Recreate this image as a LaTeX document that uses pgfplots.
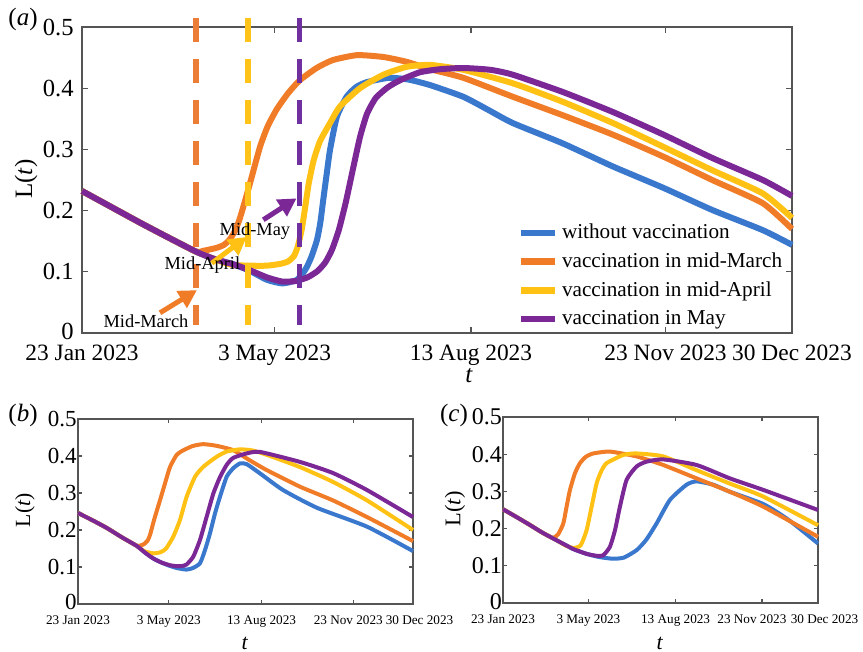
\documentclass[border=0pt]{standalone}
\usepackage{pgfplots}
\pgfplotsset{compat=1.18}
\usepackage{fontspec}
\setmainfont{Liberation Serif}
\usetikzlibrary{arrows.meta}
\definecolor{cblue}{RGB}{58,120,206}
\definecolor{corange}{RGB}{240,124,40}
\definecolor{cyellow}{RGB}{255,193,20}
\definecolor{cpurple}{RGB}{123,40,150}
\definecolor{dorange}{RGB}{235,125,55}
\definecolor{dyellow}{RGB}{255,195,25}
\definecolor{dpurple}{RGB}{112,48,160}
\definecolor{axgray}{RGB}{85,85,85}
\pgfplotsset{
  common/.style={
    scale only axis, xmin=0, xmax=365, ymin=0, ymax=0.5,
    xtick={0,99,200,300,365},
    xticklabels={23 Jan 2023,3 May 2023,13 Aug 2023,23 Nov 2023,30 Dec 2023},
    ytick={0,0.1,0.2,0.3,0.4,0.5},
    yticklabels={\raisebox{1.8pt}{0},0.1,0.2,0.3,0.4,0.5},
    axis line style={axgray, line width=0.7pt},
    tick style={axgray, line width=0.6pt},
    tick align=inside,
    /pgf/number format/assume math mode=true,
    clip=false,
  },
}
\begin{document}
\begin{tikzpicture}
\path[use as bounding box] (0,0) rectangle (431.5pt,-326pt);
% ---------------- (a)
\begin{axis}[common, at={(41pt,-166.5pt)}, anchor=south west, width=355pt, height=153pt,
  major tick length=2.8pt,
  xticklabel style={font=\fontsize{11.7}{13}\selectfont, inner sep=0.8pt, yshift=-5pt},
  yticklabel style={font=\fontsize{12.3}{13}\selectfont, inner sep=1pt, xshift=-3pt},
  legend style={at={(0.613,0.371)}, anchor=north west, draw=none, fill=none,
    font=\fontsize{10.6}{12.7}\selectfont, row sep=1.6pt, inner sep=0pt},
  legend cell align=left,
  legend image code/.code={\draw[#1, line width=3.2pt] (0pt,0pt) -- (17pt,0pt);},
  every axis plot/.append style={line width=3pt, smooth, tension=0.35},
]
\addplot[cblue] coordinates {(0,0.232) (15,0.206) (30,0.180) (45,0.155) (58.6,0.133) (68,0.121) (78,0.112) (86,0.102) (95,0.087) (103,0.081) (110,0.086) (113,0.095) (115.6,0.108) (118,0.125) (120.8,0.152) (122.5,0.18) (124,0.217) (125.8,0.26) (127.5,0.299) (131,0.353) (136,0.386) (141,0.402) (146.5,0.410) (158,0.417) (168,0.414) (179,0.405) (196,0.386) (208,0.366) (221.5,0.343) (247,0.31) (273,0.272) (299,0.237) (324,0.201) (350,0.168) (365,0.144)};
\addlegendentry{without vaccination}
\addplot[corange] coordinates {(0,0.232) (15,0.206) (30,0.180) (45,0.155) (58.6,0.133) (62,0.134) (69,0.139) (73,0.144) (76,0.153) (78.5,0.166) (80.8,0.184) (83,0.207) (86.4,0.245) (91.5,0.304) (95.5,0.338) (100.2,0.366) (106,0.392) (112,0.413) (120.6,0.433) (129,0.446) (141.4,0.454) (154.9,0.451) (167,0.443) (179,0.431) (196,0.417) (221.5,0.386) (247,0.356) (273,0.324) (299,0.288) (324,0.25) (350,0.212) (365,0.17)};
\addlegendentry{vaccination in mid-March}
\addplot[cyellow] coordinates {(0,0.232) (15,0.206) (30,0.180) (45,0.155) (58.6,0.133) (68,0.121) (74,0.114) (78,0.111) (86,0.110) (95,0.110) (102,0.113) (106,0.117) (109,0.126) (111,0.142) (113,0.17) (114.8,0.207) (116.6,0.245) (119,0.281) (122.3,0.313) (127.5,0.343) (132.6,0.37) (142.9,0.40) (154.9,0.422) (167,0.435) (179,0.438) (196,0.43) (221.5,0.408) (247,0.378) (273,0.343) (299,0.304) (324,0.266) (350,0.228) (365,0.188)};
\addlegendentry{vaccination in mid-April}
\addplot[cpurple] coordinates {(0,0.232) (15,0.206) (30,0.180) (45,0.155) (58.6,0.133) (68,0.121) (78,0.112) (86,0.103) (95,0.091) (103,0.084) (110,0.085) (116,0.091) (121,0.101) (125,0.115) (128.5,0.136) (132,0.168) (135.5,0.212) (139.3,0.268) (142.9,0.320) (146.5,0.358) (151,0.384) (157,0.401) (163.5,0.413) (173.7,0.426) (184,0.431) (196,0.433) (210,0.430) (221.5,0.422) (247,0.394) (273,0.361) (299,0.324) (324,0.286) (350,0.250) (365,0.224)};
\addlegendentry{vaccination in May}
\addplot[forget plot, dorange, line width=2.6pt, sharp plot, dash pattern=on 12pt off 8.5pt] coordinates {(58.6,0.515) (58.6,0.013)};
\addplot[forget plot, dyellow, line width=2.6pt, sharp plot, dash pattern=on 12pt off 8.5pt] coordinates {(85.3,0.515) (85.3,0.013)};
\addplot[forget plot, dpurple, line width=2.6pt, sharp plot, dash pattern=on 12pt off 8.5pt] coordinates {(112,0.515) (112,0.013)};
\draw[corange, line width=2.5pt, -{Triangle[length=9pt,width=9.5pt]}] (axis cs:40.1,0.033) -- (axis cs:59.1,0.070);
\draw[cyellow, line width=2.5pt, -{Triangle[length=9pt,width=9.5pt]}] (axis cs:66.7,0.114) -- (axis cs:84.7,0.157);
\draw[cpurple, line width=2.5pt, -{Triangle[length=9pt,width=9.5pt]}] (axis cs:93.2,0.185) -- (axis cs:110.3,0.22);
\node[anchor=base, font=\fontsize{9.2}{10}\selectfont, inner sep=0pt] at (axis cs:32.9,0.0098) {Mid-March};
\node[anchor=base, font=\fontsize{9.2}{10}\selectfont, inner sep=0pt] at (axis cs:61.9,0.103) {Mid-April};
\node[anchor=base, font=\fontsize{9.2}{10}\selectfont, inner sep=0pt] at (axis cs:88.9,0.160) {Mid-May};
\end{axis}
% ---------------- (b)
\begin{axis}[common, at={(39pt,-302pt)}, anchor=south west, width=167.5pt, height=92.5pt,
  major tick length=2.2pt,
  xticklabels={23 Jan 2023,3 May 2023,13 Aug 2023,\hspace*{-5pt}23 Nov 2023,\hspace*{6.5pt}30 Dec 2023},
  xticklabel style={font=\fontsize{6.6}{7}\selectfont, yshift=-2.5pt},
  yticklabel style={font=\fontsize{11.5}{12}\selectfont, xshift=2.8pt},
  every axis plot/.append style={line width=2pt, smooth, tension=0.35},
]
\addplot[cblue] coordinates {(0,0.246) (16,0.226) (31,0.206) (48,0.18) (64,0.157) (73,0.139) (82,0.123) (91,0.112) (100,0.103) (108,0.097) (118,0.093) (125,0.097) (132.9,0.11) (138.4,0.146) (143.8,0.191) (149.3,0.245) (154.7,0.29) (162,0.344) (169.2,0.367) (176.5,0.38) (183.8,0.378) (198.3,0.353) (223.4,0.308) (260.4,0.26) (314.9,0.209) (365,0.143)};
\addplot[corange] coordinates {(0,0.246) (16,0.226) (31,0.206) (48,0.18) (64,0.158) (68,0.158) (72,0.162) (76,0.172) (78.5,0.187) (81,0.21) (83.9,0.236) (89.3,0.28) (94.8,0.326) (100.2,0.37) (107.5,0.403) (114.4,0.415) (125,0.427) (136.2,0.432) (150,0.428) (168.9,0.416) (186,0.39) (205.6,0.362) (241.9,0.317) (277.8,0.28) (314.9,0.235) (365,0.170)};
\addplot[cyellow] coordinates {(0,0.246) (16,0.226) (31,0.206) (48,0.18) (64,0.157) (72,0.143) (82,0.137) (90,0.140) (96,0.150) (103.8,0.182) (111.1,0.227) (118.4,0.29) (127.5,0.344) (136.6,0.371) (151.1,0.398) (162,0.412) (176.5,0.418) (190,0.415) (205.9,0.403) (241.9,0.37) (277.8,0.33) (314.9,0.28) (365,0.20)};
\addplot[cpurple] coordinates {(0,0.246) (16,0.226) (31,0.206) (48,0.18) (64,0.157) (73,0.139) (82,0.123) (91,0.112) (100,0.105) (108,0.102) (114,0.103) (118.4,0.107) (125.6,0.128) (132.9,0.173) (140.2,0.236) (147.5,0.299) (154.7,0.343) (162,0.376) (169.2,0.395) (183.8,0.407) (198.3,0.411) (241.9,0.384) (277.8,0.354) (314.9,0.308) (365,0.235)};
\end{axis}
% ---------------- (c)
\begin{axis}[common, at={(251.5pt,-301.5pt)}, anchor=south west, width=157.5pt, height=93pt,
  major tick length=2.2pt,
  xticklabels={23 Jan 2023,3 May 2023,13 Aug 2023,\hspace*{-10pt}23 Nov 2023,\hspace*{6.5pt}30 Dec 2023},
  xticklabel style={font=\fontsize{6.6}{7}\selectfont, yshift=-2.5pt},
  yticklabel style={font=\fontsize{12}{12}\selectfont, xshift=3pt},
  every axis plot/.append style={line width=2pt, smooth, tension=0.35},
]
\addplot[cblue] coordinates {(0,0.252) (15,0.232) (31,0.21) (45,0.19) (54.5,0.178) (65,0.165) (81.5,0.145) (97,0.132) (108.5,0.125) (116,0.122) (127.8,0.119) (140,0.122) (154.8,0.142) (166,0.17) (178,0.214) (193.4,0.277) (212.7,0.318) (224.3,0.327) (243.6,0.318) (262.9,0.299) (301.6,0.266) (330,0.225) (365,0.16)};
\addplot[corange] coordinates {(0,0.252) (15,0.232) (31,0.21) (45,0.19) (54.5,0.178) (58.3,0.175) (64,0.185) (69.9,0.214) (73.7,0.259) (77.6,0.304) (83.4,0.349) (89.2,0.376) (96,0.393) (104.6,0.402) (123.9,0.407) (154.8,0.394) (185.7,0.371) (224.3,0.335) (262.9,0.299) (301.6,0.259) (365,0.178)};
\addplot[cyellow] coordinates {(0,0.252) (15,0.232) (31,0.21) (45,0.19) (54.5,0.178) (65,0.165) (72,0.155) (81.5,0.148) (90,0.155) (96.9,0.196) (102.7,0.259) (108.5,0.322) (114,0.355) (120.1,0.376) (139.4,0.398) (154.8,0.402) (185.7,0.394) (224.3,0.357) (262.9,0.321) (301.6,0.286) (365,0.209)};
\addplot[cpurple] coordinates {(0,0.252) (15,0.232) (31,0.21) (45,0.19) (54.5,0.178) (65,0.165) (81.5,0.145) (97,0.132) (108.5,0.127) (116,0.128) (123.9,0.151) (129.8,0.196) (135.5,0.259) (143.2,0.331) (154.8,0.367) (166.4,0.38) (185.7,0.386) (224.3,0.371) (262.9,0.335) (301.6,0.304) (365,0.25)};
\end{axis}
% ---------------- labels
\node[font=\fontsize{12.5}{13}\selectfont] at (11.5pt,-9.5pt) {(\textit{a})};
\node[font=\fontsize{12.5}{13}\selectfont] at (11.5pt,-207.5pt) {(\textit{b})};
\node[font=\fontsize{12.5}{13}\selectfont] at (227pt,-207.5pt) {(\textit{c})};
\node[rotate=90, font=\fontsize{12.5}{13}\selectfont] at (13pt,-89.5pt) {L(\textit{t})};
\node[rotate=90, font=\fontsize{10.8}{12}\selectfont] at (12.5pt,-255pt) {L(\textit{t})};
\node[rotate=90, font=\fontsize{11.2}{12}\selectfont] at (227.5pt,-254.5pt) {L(\textit{t})};
\node[inner sep=0pt, font=\fontsize{12.5}{13}\selectfont] at (234.5pt,-187.8pt) {\textit{t}};
\node[inner sep=0pt, font=\fontsize{11}{12}\selectfont] at (122.5pt,-321.5pt) {\textit{t}};
\node[inner sep=0pt, font=\fontsize{11}{12}\selectfont] at (330pt,-321.5pt) {\textit{t}};
\end{tikzpicture}
\end{document}
